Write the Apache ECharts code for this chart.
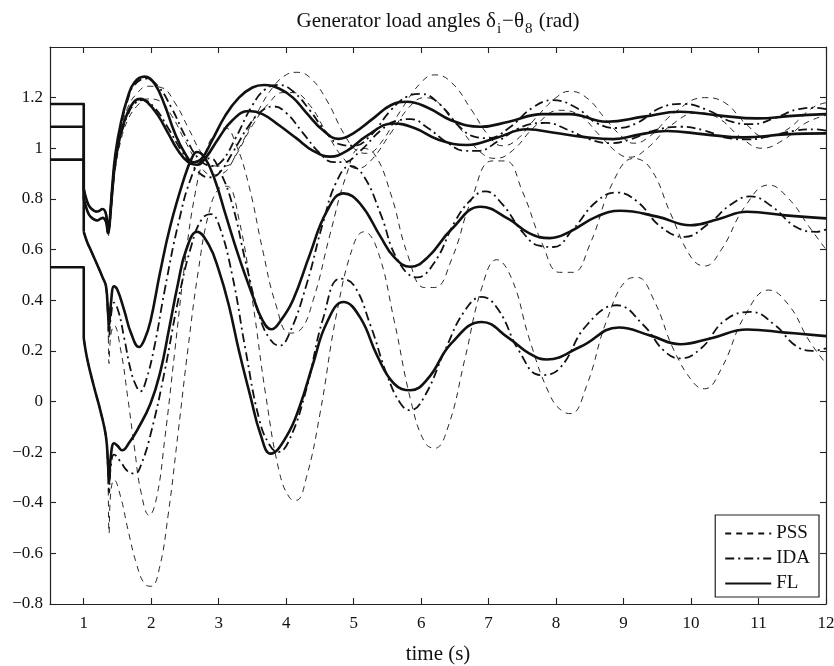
<!DOCTYPE html>
<html>
<head>
<meta charset="utf-8">
<script src="https://cdn.jsdelivr.net/npm/echarts@6/dist/echarts.min.js"></script>
<style>html,body{margin:0;padding:0;background:#fff}#c{width:834px;height:666px}</style>
</head>
<body>
<div id="c"></div>
<script>
// ---- data ----
const xTicks = [1,2,3,4,5,6,7,8,9,10,11,12];
const yTicks = [-0.8,-0.6,-0.4,-0.2,0,0.2,0.4,0.6,0.8,1,1.2];
const tStart = 0.5, tFault = 1.0;
const prefault = [1.175, 1.085, 0.955, 0.53];

const flA = [[1.0,0.84],[1.05,0.79],[1.1,0.765],[1.2,0.75],[1.28,0.76],[1.33,0.74],[1.36,0.67],[1.38,0.70],[1.42,0.84],[1.47,0.98],[1.55,1.10],[1.65,1.20],[1.75,1.26],[1.9,1.283],[2.05,1.255],[2.2,1.17],[2.35,1.06],[2.5,0.98],[2.62,0.945],[2.75,0.96],[2.9,1.03],[3.1,1.13],[3.3,1.2],[3.5,1.24],[3.67,1.25],[3.9,1.235],[4.1,1.2],[4.3,1.14],[4.55,1.07],[4.78,1.037],[5.0,1.06],[5.3,1.12],[5.55,1.17],[5.79,1.184],[6.1,1.16],[6.45,1.11],[6.88,1.085],[7.3,1.105],[7.8,1.135],[8.2,1.135],[8.75,1.105],[9.3,1.125],[9.84,1.144],[10.4,1.13],[10.98,1.118],[11.5,1.128],[12,1.135]];
const flB = [[1.0,0.8],[1.05,0.755],[1.1,0.73],[1.2,0.715],[1.28,0.725],[1.33,0.71],[1.36,0.665],[1.38,0.69],[1.42,0.82],[1.47,0.95],[1.55,1.06],[1.65,1.14],[1.75,1.185],[1.84,1.195],[1.95,1.18],[2.1,1.13],[2.25,1.06],[2.4,0.99],[2.55,0.945],[2.68,0.935],[2.8,0.96],[3.0,1.04],[3.2,1.11],[3.445,1.147],[3.65,1.135],[3.9,1.09],[4.15,1.04],[4.4,0.99],[4.655,0.967],[4.9,0.99],[5.2,1.05],[5.59,1.098],[5.9,1.08],[6.25,1.035],[6.68,1.013],[7.1,1.04],[7.57,1.075],[8.0,1.06],[8.4,1.045],[8.85,1.036],[9.25,1.055],[9.64,1.068],[10.2,1.055],[10.78,1.043],[11.4,1.055],[12,1.059]];
const flC = [[1.0,0.67],[1.05,0.63],[1.1,0.6],[1.2,0.54],[1.28,0.49],[1.33,0.455],[1.36,0.35],[1.375,0.30],[1.4,0.38],[1.45,0.455],[1.5,0.44],[1.6,0.36],[1.7,0.27],[1.82,0.215],[1.9,0.245],[1.99,0.318],[2.13,0.508],[2.28,0.69],[2.48,0.875],[2.6,0.96],[2.68,0.985],[2.8,0.96],[2.95,0.87],[3.1,0.74],[3.3,0.57],[3.5,0.42],[3.65,0.32],[3.78,0.285],[3.92,0.32],[4.1,0.4],[4.35,0.58],[4.6,0.75],[4.85,0.822],[5.1,0.78],[5.4,0.65],[5.6,0.57],[5.84,0.532],[6.1,0.57],[6.45,0.68],[6.88,0.769],[7.3,0.72],[7.6,0.665],[7.91,0.645],[8.2,0.67],[8.6,0.73],[8.95,0.753],[9.5,0.73],[9.99,0.696],[10.4,0.72],[10.83,0.749],[11.4,0.735],[12,0.723]];
const flD = [[1.0,0.25],[1.05,0.17],[1.15,0.06],[1.25,-0.04],[1.33,-0.14],[1.36,-0.25],[1.375,-0.32],[1.4,-0.22],[1.45,-0.165],[1.5,-0.175],[1.57,-0.193],[1.68,-0.16],[1.79,-0.114],[1.99,-0.008],[2.14,0.123],[2.26,0.28],[2.4,0.47],[2.52,0.6],[2.68,0.67],[2.85,0.62],[3.0,0.52],[3.15,0.38],[3.3,0.2],[3.47,0.02],[3.62,-0.13],[3.77,-0.206],[4.0,-0.14],[4.2,-0.02],[4.4,0.15],[4.6,0.31],[4.85,0.393],[5.1,0.33],[5.35,0.18],[5.6,0.07],[5.84,0.044],[6.1,0.09],[6.45,0.23],[6.9,0.314],[7.3,0.25],[7.6,0.19],[7.86,0.166],[8.36,0.216],[8.93,0.292],[9.4,0.26],[9.84,0.226],[10.3,0.25],[10.83,0.284],[11.4,0.272],[12,0.258]];

const idaA = [[1.0,0.84],[1.05,0.79],[1.1,0.765],[1.2,0.75],[1.28,0.76],[1.33,0.74],[1.36,0.67],[1.38,0.70],[1.42,0.84],[1.47,0.97],[1.55,1.09],[1.65,1.19],[1.75,1.25],[1.92,1.275],[2.1,1.245],[2.3,1.16],[2.5,1.05],[2.7,0.96],[2.9,0.93],[3.05,0.95],[3.25,1.04],[3.5,1.17],[3.7,1.235],[3.9,1.25],[4.1,1.225],[4.35,1.15],[4.6,1.06],[4.8,1.015],[5.0,1.01],[5.25,1.05],[5.55,1.15],[5.8,1.205],[6.0,1.215],[6.25,1.18],[6.55,1.09],[6.8,1.045],[7.0,1.04],[7.3,1.08],[7.65,1.16],[7.95,1.19],[8.3,1.16],[8.6,1.1],[8.9,1.08],[9.2,1.1],[9.55,1.16],[9.9,1.175],[10.25,1.15],[10.6,1.105],[10.9,1.095],[11.25,1.12],[11.6,1.155],[11.85,1.16],[12,1.155]];
const idaB = [[1.0,0.8],[1.05,0.755],[1.1,0.73],[1.2,0.715],[1.28,0.725],[1.33,0.71],[1.36,0.665],[1.38,0.69],[1.42,0.81],[1.47,0.94],[1.55,1.05],[1.65,1.13],[1.75,1.175],[1.88,1.19],[2.05,1.16],[2.25,1.08],[2.45,0.99],[2.65,0.92],[2.85,0.885],[3.0,0.9],[3.2,0.98],[3.45,1.09],[3.65,1.15],[3.82,1.165],[4.0,1.14],[4.25,1.06],[4.5,0.98],[4.7,0.945],[4.85,0.945],[5.1,0.99],[5.4,1.07],[5.65,1.11],[5.85,1.115],[6.1,1.08],[6.4,1.02],[6.65,0.99],[6.85,0.99],[7.15,1.03],[7.5,1.085],[7.85,1.1],[8.2,1.07],[8.5,1.035],[8.8,1.02],[9.1,1.035],[9.45,1.07],[9.85,1.085],[10.2,1.07],[10.55,1.04],[10.85,1.035],[11.2,1.05],[11.55,1.07],[11.85,1.075],[12,1.07]];
const idaC = [[1.0,0.67],[1.05,0.63],[1.1,0.6],[1.2,0.54],[1.28,0.49],[1.33,0.455],[1.36,0.33],[1.375,0.25],[1.4,0.33],[1.45,0.39],[1.52,0.35],[1.6,0.25],[1.7,0.12],[1.78,0.06],[1.84,0.04],[1.92,0.08],[2.05,0.22],[2.2,0.44],[2.4,0.7],[2.6,0.89],[2.75,0.95],[2.88,0.96],[3.0,0.92],[3.2,0.78],[3.4,0.55],[3.6,0.34],[3.75,0.25],[3.9,0.22],[4.05,0.27],[4.3,0.46],[4.55,0.71],[4.75,0.87],[4.95,0.93],[5.15,0.89],[5.4,0.74],[5.65,0.56],[5.94,0.49],[6.2,0.55],[6.5,0.71],[6.75,0.8],[6.95,0.83],[7.2,0.78],[7.5,0.67],[7.75,0.615],[7.96,0.61],[8.25,0.68],[8.6,0.79],[8.9,0.825],[9.2,0.79],[9.55,0.69],[9.9,0.65],[10.25,0.7],[10.6,0.78],[10.88,0.81],[11.2,0.77],[11.55,0.69],[11.86,0.67],[12,0.68]];
const idaD = [[1.0,0.25],[1.05,0.17],[1.15,0.06],[1.25,-0.04],[1.33,-0.14],[1.36,-0.27],[1.375,-0.36],[1.4,-0.26],[1.45,-0.21],[1.55,-0.24],[1.65,-0.275],[1.76,-0.285],[1.85,-0.25],[2.0,-0.12],[2.2,0.12],[2.4,0.4],[2.6,0.62],[2.75,0.72],[2.88,0.74],[3.0,0.7],[3.2,0.5],[3.4,0.2],[3.6,-0.07],[3.75,-0.17],[3.88,-0.2],[4.05,-0.15],[4.3,0.05],[4.55,0.33],[4.8,0.485],[5.0,0.46],[5.25,0.3],[5.5,0.1],[5.7,-0.01],[5.84,-0.035],[6.05,0.02],[6.35,0.2],[6.65,0.36],[6.9,0.413],[7.15,0.36],[7.45,0.2],[7.77,0.104],[8.05,0.13],[8.45,0.3],[8.9,0.38],[9.3,0.3],[9.6,0.2],[9.84,0.17],[10.15,0.21],[10.5,0.32],[10.88,0.354],[11.25,0.3],[11.55,0.22],[11.8,0.2],[12,0.21]];

const pssA = [[1.0,0.84],[1.05,0.79],[1.1,0.765],[1.2,0.75],[1.28,0.76],[1.33,0.74],[1.36,0.66],[1.38,0.69],[1.42,0.83],[1.47,0.96],[1.55,1.07],[1.65,1.16],[1.8,1.22],[1.95,1.245],[2.15,1.24],[2.35,1.18],[2.55,1.08],[2.75,0.98],[2.95,0.93],[3.1,0.93],[3.3,1.0],[3.55,1.13],[3.8,1.24],[4.0,1.29],[4.15,1.3],[4.35,1.28],[4.6,1.19],[4.85,1.06],[5.05,0.99],[5.2,0.98],[5.4,1.02],[5.7,1.15],[6.0,1.26],[6.2,1.29],[6.45,1.26],[6.75,1.15],[7.0,1.05],[7.2,1.01],[7.4,1.03],[7.7,1.12],[8.0,1.2],[8.2,1.225],[8.45,1.2],[8.75,1.11],[9.0,1.04],[9.15,1.02],[9.4,1.05],[9.75,1.14],[10.2,1.2],[10.5,1.18],[10.8,1.1],[11.1,1.045],[11.4,1.07],[11.8,1.16],[12,1.18]];
const pssB = [[1.0,0.8],[1.05,0.755],[1.1,0.73],[1.2,0.715],[1.28,0.725],[1.33,0.71],[1.36,0.65],[1.38,0.68],[1.42,0.8],[1.47,0.92],[1.55,1.03],[1.65,1.11],[1.8,1.17],[1.95,1.195],[2.1,1.19],[2.3,1.13],[2.5,1.03],[2.7,0.94],[2.9,0.895],[3.05,0.9],[3.25,0.97],[3.5,1.09],[3.75,1.18],[3.95,1.22],[4.1,1.22],[4.35,1.17],[4.6,1.06],[4.85,0.96],[5.05,0.92],[5.25,0.95],[5.55,1.06],[5.85,1.17],[6.05,1.2],[6.3,1.17],[6.6,1.07],[6.9,0.98],[7.1,0.96],[7.35,0.99],[7.7,1.09],[8.05,1.15],[8.35,1.13],[8.65,1.05],[8.95,0.975],[9.1,0.965],[9.35,1.0],[9.7,1.09],[10.1,1.14],[10.4,1.12],[10.75,1.04],[11.05,1.0],[11.35,1.03],[11.7,1.1],[12,1.13]];
const pssC = [[1.0,0.67],[1.05,0.63],[1.1,0.6],[1.2,0.54],[1.28,0.49],[1.33,0.45],[1.36,0.3],[1.375,0.15],[1.4,0.26],[1.45,0.3],[1.55,0.2],[1.65,0.02],[1.75,-0.18],[1.85,-0.36],[1.97,-0.45],[2.08,-0.38],[2.2,-0.15],[2.35,0.2],[2.5,0.55],[2.65,0.82],[2.8,0.98],[2.95,1.06],[3.1,1.08],[3.25,1.02],[3.45,0.85],[3.65,0.6],[3.85,0.38],[4.05,0.27],[4.2,0.28],[4.4,0.4],[4.65,0.66],[4.9,0.9],[5.1,1.0],[5.3,0.98],[5.55,0.82],[5.8,0.58],[6.05,0.45],[6.2,0.45],[6.45,0.56],[6.75,0.8],[7.05,0.95],[7.25,0.95],[7.5,0.83],[7.8,0.62],[8.05,0.51],[8.25,0.51],[8.5,0.62],[8.85,0.87],[9.15,0.96],[9.4,0.92],[9.7,0.74],[10.0,0.57],[10.2,0.535],[10.45,0.6],[10.8,0.77],[11.15,0.855],[11.45,0.8],[11.75,0.69],[12,0.6]];
const pssD = [[1.0,0.25],[1.05,0.17],[1.15,0.06],[1.25,-0.04],[1.33,-0.15],[1.36,-0.32],[1.375,-0.52],[1.4,-0.36],[1.45,-0.31],[1.55,-0.38],[1.65,-0.5],[1.78,-0.64],[1.9,-0.72],[2.0,-0.73],[2.12,-0.66],[2.25,-0.45],[2.4,-0.12],[2.55,0.22],[2.7,0.52],[2.85,0.74],[3.0,0.84],[3.12,0.85],[3.3,0.72],[3.5,0.4],[3.7,0.02],[3.9,-0.28],[4.05,-0.38],[4.15,-0.39],[4.3,-0.3],[4.5,-0.05],[4.75,0.35],[5.0,0.62],[5.15,0.67],[5.35,0.6],[5.6,0.32],[5.85,0.0],[6.05,-0.16],[6.2,-0.185],[6.4,-0.1],[6.65,0.17],[6.9,0.45],[7.12,0.56],[7.35,0.48],[7.6,0.25],[7.9,0.03],[8.1,-0.04],[8.22,-0.048],[8.45,0.06],[8.75,0.32],[9.05,0.48],[9.2,0.49],[9.45,0.4],[9.75,0.2],[10.05,0.07],[10.2,0.05],[10.45,0.13],[10.8,0.34],[11.15,0.44],[11.45,0.38],[11.75,0.24],[12,0.15]];

// ---- chart ----
const FONT = 'Liberation Serif';
const INK = '#111';
const styles = {
  PSS: {width: 0.9, type: [6, 5]},
  IDA: {width: 1.8, type: [9, 4, 2, 4]},
  FL:  {width: 2.6, type: 'solid'}
};
function lineSeries(name, data, smooth) {
  return {
    name: name, type: 'line', data: data, showSymbol: false, symbol: 'none',
    smooth: smooth, animation: false, silent: true,
    lineStyle: {color: INK, width: styles[name].width, type: styles[name].type, cap: 'butt', join: 'round'},
    itemStyle: {color: INK}
  };
}
const series = [];
[pssA, pssB, pssC, pssD].forEach(d => series.push(lineSeries('PSS', d, 0.45)));
[idaA, idaB, idaC, idaD].forEach(d => series.push(lineSeries('IDA', d, 0.45)));
[flA, flB, flC, flD].forEach(d => series.push(lineSeries('FL', d, 0.45)));
const flFirst = [flA[0][1], flB[0][1], flC[0][1], flD[0][1]];
prefault.forEach((v, i) => series.push(lineSeries('FL', [[tStart, v], [tFault, v], [tFault, flFirst[i]]], false)));

function fmtY(v) {
  const r = Math.round(v * 10) / 10;
  return r < 0 ? '\u2212' + Math.abs(r) : String(r);
}
const axisLine = {show: true, onZero: false, lineStyle: {color: '#222', width: 1.2}};
const tickStyle = {color: '#222', width: 1.1};

const option = {
  backgroundColor: '#fff',
  animation: false,
  title: {
    text: '{n|Generator load angles \u03b4}{s|i}{n|\u2212\u03b8}{s|8}{n| (rad)}',
    left: 433, top: 6, textAlign: 'center',
    textStyle: {
      fontWeight: 'normal',
      rich: {
        n: {fontFamily: FONT, fontSize: 21, fontWeight: 'normal', color: INK, verticalAlign: 'top', lineHeight: 24},
        s: {fontFamily: FONT, fontSize: 15, fontWeight: 'normal', color: INK, verticalAlign: 'top', lineHeight: 24, padding: [11, 1, 0, 1]}
      }
    }
  },
  grid: {left: 50, right: 8, top: 47, bottom: 62, containLabel: false, outerBoundsMode: 'none'},
  legend: {
    data: ['PSS', 'IDA', 'FL'],
    orient: 'vertical', right: 15, bottom: 69,
    backgroundColor: '#fff', borderColor: '#222', borderWidth: 1.2, borderRadius: 0,
    padding: [9, 9, 4, 9], itemWidth: 46, itemHeight: 14, itemGap: 6,
    itemStyle: {color: 'transparent', borderWidth: 0, opacity: 0},
    textStyle: {fontFamily: FONT, fontSize: 19, color: INK},
    selectedMode: false
  },
  xAxis: [{
    type: 'value', min: tStart, max: 12, position: 'bottom',
    name: 'time (s)', nameLocation: 'middle', nameGap: 40,
    nameTextStyle: {fontFamily: FONT, fontSize: 21, color: INK},
    axisLine: axisLine,
    axisTick: {show: true, inside: true, length: 6, lineStyle: tickStyle, customValues: xTicks},
    axisLabel: {fontFamily: FONT, fontSize: 17, color: INK, margin: 11, customValues: xTicks},
    splitLine: {show: false}
  }, {
    type: 'value', min: tStart, max: 12, position: 'top',
    axisLine: axisLine,
    axisTick: {show: true, inside: true, length: 6, lineStyle: tickStyle, customValues: xTicks},
    axisLabel: {show: false},
    splitLine: {show: false}
  }],
  yAxis: [{
    type: 'value', min: -0.8, max: 1.4, position: 'left',
    axisLine: axisLine,
    axisTick: {show: true, inside: true, length: 6, lineStyle: tickStyle, customValues: yTicks},
    axisLabel: {fontFamily: FONT, fontSize: 17, color: INK, margin: 7, customValues: yTicks, formatter: fmtY},
    splitLine: {show: false}
  }, {
    type: 'value', min: -0.8, max: 1.4, position: 'right',
    axisLine: axisLine,
    axisTick: {show: true, inside: true, length: 6, lineStyle: tickStyle, customValues: yTicks},
    axisLabel: {show: false},
    splitLine: {show: false}
  }],
  series: series
};
const chart = echarts.init(document.getElementById('c'), null, {renderer: 'canvas'});
chart.setOption(option);
</script>
</body>
</html>
